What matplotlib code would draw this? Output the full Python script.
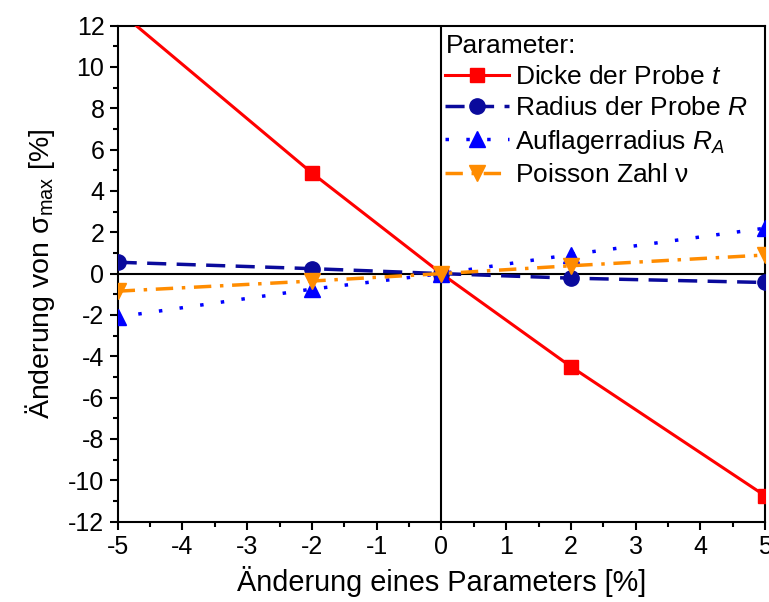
import matplotlib
matplotlib.use("Agg")
import matplotlib.pyplot as plt
from matplotlib.ticker import MultipleLocator

plt.rcParams["font.family"] = ["Liberation Sans", "DejaVu Sans"]
plt.rcParams["mathtext.fontset"] = "custom"
plt.rcParams["mathtext.rm"] = "Liberation Sans"
plt.rcParams["mathtext.it"] = "Liberation Sans:italic"
plt.rcParams["mathtext.sf"] = "Liberation Sans"
plt.rcParams["axes.unicode_minus"] = False

# Parameter change [%]
x_vals = [-5, -2, 0, 2, 5]

# Change of sigma_max [%] per parameter
dicke = [12.75, 4.87, 0.0, -4.5, -10.75]
radius = [0.55, 0.24, 0.0, -0.22, -0.43]
auflager = [-2.1, -0.75, 0.0, 0.92, 2.2]
poisson = [-0.85, -0.36, 0.0, 0.38, 0.9]

labels = [
    "Dicke der Probe $t$",
    "Radius der Probe $R$",
    "Auflagerradius $R_A$",
    r"Poisson Zahl $\mathrm{ν}$",
]

fig = plt.figure(figsize=(7.69, 6.02), dpi=100)
ax = fig.add_axes([0.153, 0.1335, 0.842, 0.824])

# zero cross lines
ax.axhline(0, color="black", linewidth=1.5, zorder=1)
ax.axvline(0, color="black", linewidth=1.5, zorder=1)

ax.plot(x_vals, dicke, color="#FF0000", linestyle="-", linewidth=2.2,
        marker="s", markersize=10, label=labels[0], zorder=3)
ax.plot(x_vals, radius, color="#0A0A9C", linestyle=(0, (5.5, 3)), linewidth=2.5,
        marker="o", markersize=11, label=labels[1], zorder=3)
ax.plot(x_vals, auflager, color="#0000FF", linestyle=(0, (1, 5)), linewidth=2.5,
        marker="^", markersize=12, label=labels[2], zorder=3)
ax.plot(x_vals, poisson, color="#FF8C00", linestyle=(0, (5, 2.5, 1, 2.5)), linewidth=2.5,
        marker="v", markersize=12, label=labels[3], zorder=3)

ax.set_xlim(-5, 5)
ax.set_ylim(-12, 12)
ax.xaxis.set_major_locator(MultipleLocator(1))
ax.xaxis.set_minor_locator(MultipleLocator(0.5))
ax.yaxis.set_major_locator(MultipleLocator(2))
ax.yaxis.set_minor_locator(MultipleLocator(1))
ax.tick_params(which="major", direction="out", length=6, width=1.5, labelsize=18)
ax.tick_params(which="minor", direction="out", length=3.5, width=1.5)
for sp in ax.spines.values():
    sp.set_linewidth(1.5)

ax.set_xlabel("Änderung eines Parameters [%]", fontsize=20.8, labelpad=5)
ax.set_ylabel(r"Änderung von $\mathrm{σ}_{\mathrm{max}}$ [%]", fontsize=20.5, labelpad=8)

leg = ax.legend(title="Parameter:", loc="upper left", bbox_to_anchor=(0.494, 1.0),
                frameon=False, fontsize=19, title_fontsize=19,
                handlelength=2.4, handletextpad=0.25, labelspacing=0.28,
                borderpad=0.3, borderaxespad=0.0)
leg._legend_box.align = "left"

fig.savefig("out.png", dpi=100)
